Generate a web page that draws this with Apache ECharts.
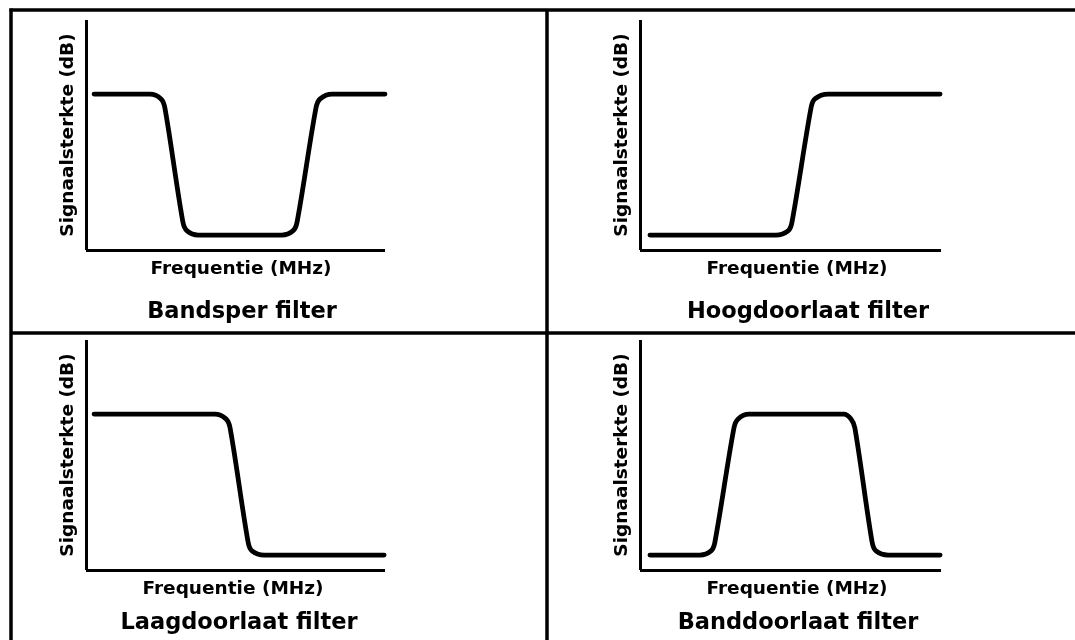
<!DOCTYPE html>
<html>
<head>
<meta charset="utf-8">
<script src="https://cdn.jsdelivr.net/npm/echarts@6/dist/echarts.min.js"></script>
<style>
html,body{margin:0;padding:0;background:#fff;}
#chart{width:1075px;height:640px;}
</style>
</head>
<body>
<div id="chart"></div>
<script>
// Panel titles and axis names
const panelTitles = ['Bandsper filter', 'Hoogdoorlaat filter', 'Laagdoorlaat filter', 'Banddoorlaat filter'];
const xName = 'Frequentie (MHz)';
const yName = 'Signaalsterkte (dB)';

// Curves: [frequency, signal] in relative units (0-100 on both axes)
const bandsper = [[2.7,67.8],[21.4,67.8],[25.1,65.7],[26.4,61.7],[32.4,12.2],[33.8,8.3],[37.5,6.5],[65.5,6.5],[69.2,8.3],[70.6,12.2],[76.9,61.7],[78.3,65.7],[82.3,67.8],[100,67.8]];
const hoogdoorlaat = [[3.3,6.5],[45.1,6.5],[49.2,8.3],[50.5,12.2],[56.8,61.7],[58.1,65.7],[62.5,67.8],[99.7,67.8]];
const laagdoorlaat = [[2.7,67.8],[43.1,67.8],[46.8,65.7],[48.2,61.7],[54.2,12.2],[55.5,8.3],[59.6,6.5],[99.7,6.5]];
const banddoorlaat = [[3.3,6.5],[19.9,6.5],[23.6,8.3],[24.9,12.2],[31.2,61.7],[32.6,65.7],[36.2,67.8],[67.7,67.8],[70.1,65.7],[71.4,61.7],[77.1,12.2],[78.4,8.3],[82.4,6.5],[99.7,6.5]];

const curves = [bandsper, hoogdoorlaat, laagdoorlaat, banddoorlaat];

const FONT = '"DejaVu Sans", Verdana, sans-serif';
const grids = [
  {left: 86, top: 20, width: 299, height: 230},
  {left: 640, top: 20, width: 301, height: 230},
  {left: 86, top: 340, width: 299, height: 230},
  {left: 640, top: 340, width: 301, height: 230}
];
const titlePos = [[242, 312], [808, 312], [239, 623], [798, 623]];
const xNamePad = [[0,0,0,11],[0,0,0,13],[0,0,0,-5],[0,0,0,13]];

const axisLine = {show: true, onZero: false, lineStyle: {color: '#000', width: 3, cap: 'butt'}};

const xAxis = grids.map((g, i) => ({
  type: 'value', gridIndex: i, min: 0, max: 100, position: 'bottom',
  axisLine: axisLine, axisTick: {show: false}, axisLabel: {show: false}, splitLine: {show: false},
  name: xName, nameLocation: 'middle', nameGap: 10,
  nameTextStyle: {fontFamily: FONT, fontWeight: 'bold', fontSize: 18.5, color: '#000', padding: xNamePad[i]}
}));
const yAxis = grids.map((g, i) => ({
  type: 'value', gridIndex: i, min: 0, max: 100,
  axisLine: axisLine, axisTick: {show: false}, axisLabel: {show: false}, splitLine: {show: false},
  name: yName, nameLocation: 'middle', nameGap: 8,
  nameTextStyle: {fontFamily: FONT, fontWeight: 'bold', fontSize: 18.5, color: '#000'}
}));
const series = curves.map((c, i) => ({
  type: 'line', xAxisIndex: i, yAxisIndex: i, data: c,
  showSymbol: false, smooth: 0.32, silent: true,
  lineStyle: {color: '#000', width: 4.8, cap: 'round', join: 'round'}
}));

const borderStyle = {stroke: '#000', lineWidth: 3.5};
const graphics = [
  {type: 'line', shape: {x1: 9.5, y1: 10, x2: 1075, y2: 10}, style: borderStyle},
  {type: 'line', shape: {x1: 11, y1: 8.5, x2: 11, y2: 640}, style: borderStyle},
  {type: 'line', shape: {x1: 11, y1: 333, x2: 1075, y2: 333}, style: borderStyle},
  {type: 'line', shape: {x1: 547, y1: 10, x2: 547, y2: 640}, style: borderStyle}
];
panelTitles.forEach((t, i) => {
  graphics.push({type: 'text', x: titlePos[i][0], y: titlePos[i][1],
    style: {text: t, fill: '#000', font: 'bold 22.5px ' + FONT, textAlign: 'center', textVerticalAlign: 'middle'}});
});

const chart = echarts.init(document.getElementById('chart'), null, {renderer: 'canvas'});
chart.setOption({
  animation: false,
  backgroundColor: '#fff',
  grid: grids,
  xAxis: xAxis,
  yAxis: yAxis,
  series: series,
  graphic: graphics
});
</script>
</body>
</html>
